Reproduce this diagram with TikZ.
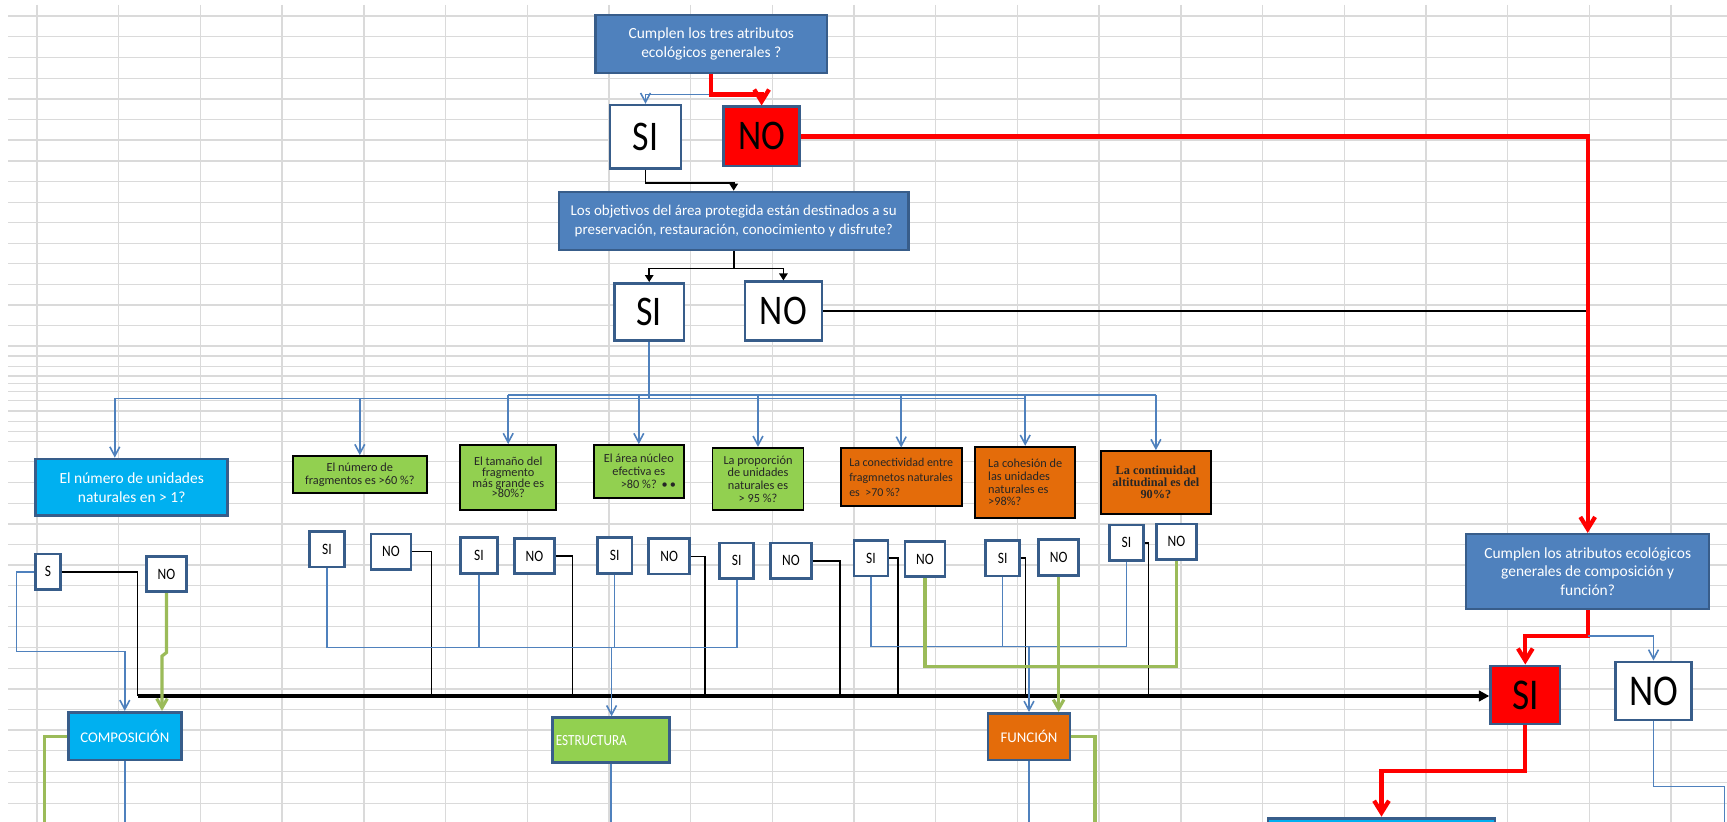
\documentclass[tikz,border=0pt]{standalone}
\usepackage{fontspec}
\setmainfont{Carlito}
\newfontfamily\narrowfont[FakeStretch=0.85]{Carlito}
\newfontfamily\boldserif{Liberation Serif}
\usetikzlibrary{arrows.meta}
\definecolor{xlblue}{RGB}{79,129,189}
\definecolor{xlborder}{RGB}{56,93,138}
\definecolor{xlcyan}{RGB}{0,176,240}
\definecolor{xlgreen}{RGB}{146,208,80}
\definecolor{xlorange}{RGB}{228,108,10}
\definecolor{xlleaf}{RGB}{155,187,89}
\definecolor{xlred}{RGB}{255,0,0}
\definecolor{xlgrid}{RGB}{218,218,218}

\tikzset{
  sheetline/.style={xlgrid, line width=0.4pt},
  qbox/.style={draw=xlborder, fill=xlblue, line width=0.6pt, text=white, align=center, inner sep=0pt},
  cybox/.style={draw=xlborder, fill=xlcyan, line width=0.8pt, text=white, align=center, inner sep=0pt},
  gbox/.style={draw=black, fill=xlgreen, line width=0.5pt, text=black!85, align=center, inner sep=0pt,
    font=\fontsize{3.5}{3.6}\selectfont},
  obox/.style={draw=black, fill=xlorange, line width=0.5pt, text=black!85, inner sep=0pt,
    font=\fontsize{3.5}{3.6}\selectfont},
  ansbig/.style={draw=xlborder, fill=white, line width=0.7pt, inner sep=0pt,
    font=\narrowfont\fontsize{12}{12}\selectfont},
  ans/.style={draw=xlborder, fill=white, line width=0.75pt, inner sep=0pt,
    font=\narrowfont\fontsize{4.5}{4.5}\selectfont},
  blueline/.style={xlblue, line width=0.45pt},
  bluearrow/.style={blueline, -{Straight Barb[length=2.6pt,width=2.8pt]}},
  blackline/.style={black, line width=0.45pt},
  blackarrow/.style={blackline, -{Triangle[length=2pt,width=2.4pt]}},
  busarrow/.style={black, line width=0.9pt, -{Triangle[length=3pt,width=3pt]}},
  redline/.style={xlred, line width=1.2pt},
  redarrow/.style={redline, -{Straight Barb[length=3.4pt,width=4.2pt]}},
  greenline/.style={xlleaf, line width=0.9pt},
  greenarrow/.style={greenline, -{Straight Barb[length=2.6pt,width=3pt]}}
}

\begin{document}
\begin{tikzpicture}[x=0.01cm, y=-0.01cm]
  \useasboundingbox (0,0) rectangle (1727,822);
  \clip (0,0) rectangle (1727,822);
  \fill[white] (0,0) rectangle (1727,822);

  % spreadsheet grid
  \foreach \k in {0,...,20} \draw[sheetline] (37+81.7*\k,5) -- (37+81.7*\k,822);
  \foreach \r in {16,36.7,57.3,78.3,99,119.3,140,161,181.7,202.3,222.7,243.3,263.3,284.3,305,
      325.7,346,356,366.7,376,383.3,391.7,400.7,411,421.7,431.7,441.7,461.7,482.5,503.3,524,
      544.3,565,585.7,606.5,626.7,647.7,668.3,689,709.3,730,750.7,771.5,782.7,803.3}
    \draw[sheetline] (8,\r) -- (1727,\r);

  % first questions
  \node[qbox, minimum width=2.315cm, minimum height=0.577cm, font=\fontsize{4.4}{5.2}\selectfont]
    (q0) at (711.3,43.9) {Cumplen los tres atributos\\ecológicos generales ?};
  \node[ansbig, minimum width=0.71cm, minimum height=0.633cm] (si0) at (645.5,136.7) {SI};
  \node[ansbig, fill=xlred, minimum width=0.758cm, minimum height=0.593cm] (no0) at (761.6,136.4) {NO};
  \node[qbox, minimum width=3.493cm, minimum height=0.583cm, font=\fontsize{4.25}{5.4}\selectfont]
    (q1) at (733.7,220.9) {Los objetivos del área protegida están destinados a su\\preservación, restauración, conocimiento y disfrute?};
  \node[ansbig, minimum width=0.697cm, minimum height=0.574cm] (si1) at (649.2,312) {SI};
  \node[ansbig, minimum width=0.767cm, minimum height=0.59cm] (no1) at (783.4,311.2) {NO};

  % attribute questions
  \node[cybox, minimum width=1.92cm, minimum height=0.567cm, font=\fontsize{4.4}{5.4}\selectfont]
    (qa) at (131.7,487.4) {El número de unidades\\naturales en > 1?};
  \node[gbox, minimum width=1.34cm, minimum height=0.373cm] (qb) at (359.8,474.7)
    {El número de\\fragmentos es >60 \%?};
  \node[gbox, minimum width=0.956cm, minimum height=0.65cm, font=\fontsize{3.5}{3.05}\selectfont]
    (qc) at (508.2,477.5) {El tamaño del\\fragmento\\más grande es\\>80\%?};
  \node[gbox, minimum width=0.90cm, minimum height=0.527cm] (qd) at (638.8,471.4)
    {El área  núcleo\\efectiva es\\>80 \%?\rlap{\ \,•\,•}};
  \node[gbox, minimum width=0.91cm, minimum height=0.623cm] (qe) at (758,478.9)
    {La proporción\\de unidades\\naturales es\\> 95 \%?};
  \node[obox, align=left, minimum width=1.21cm, minimum height=0.577cm, font=\fontsize{3.4}{4.2}\selectfont]
    (qf) at (901.2,477.2) {La conectividad entre\\fragmnetos naturales\\es \ >70 \%?};
  \node[obox, align=left, minimum width=0.997cm, minimum height=0.716cm] (qg) at (1025.2,482.5)
    {La cohesión de\\las unidades\\naturales es\\>98\%?};
  \node[obox, align=center, minimum width=1.103cm, minimum height=0.63cm,
    font=\boldserif\bfseries\fontsize{3.5}{3.5}\selectfont] (qh) at (1155.9,482.5)
    {La continuidad\\altitudinal es del\\90\%?};

  % small answers
  \foreach \n/\x/\y/\w/\t in {sa/48/571.8/0.246/S, na/166.5/574/0.402/NO,
      sb/327/549.2/0.352/SI, nb/391/551.7/0.40/NO, sc/479/555.5/0.366/SI, nc/534.4/556/0.402/NO,
      sd/614.7/555.5/0.347/SI, nd/669.2/556.3/0.41/NO, se/736.7/560.8/0.341/SI, ne/791/560.8/0.406/NO,
      sf/871/558.2/0.341/SI, nf/925/559/0.40/NO, sg/1002.6/558.2/0.341/SI, ng/1058.6/557.5/0.40/NO,
      sh/1126.4/542.9/0.341/SI, nh/1176.4/541.7/0.40/NO}
    \node[ans, minimum width=\w cm, minimum height=0.355cm] (\n) at (\x,\y) {\t};

  % attribute groups
  \node[cybox, minimum width=1.13cm, minimum height=0.477cm, font=\fontsize{4.2}{4.2}\selectfont]
    (comp) at (124.8,736.2) {COMPOSICIÓN};
  \node[cybox, fill=xlgreen, align=left, text width=1.1cm, minimum width=1.174cm, minimum height=0.45cm,
    font=\narrowfont\fontsize{4.4}{4.4}\selectfont] (estr) at (610.9,740.2) {ESTRUCTURA};
  \node[cybox, fill=xlorange, minimum width=0.82cm, minimum height=0.467cm, font=\fontsize{4.2}{4.2}\selectfont]
    (func) at (1029,736.7) {FUNCIÓN};

  % right branch
  \node[qbox, minimum width=2.433cm, minimum height=0.75cm, font=\fontsize{4.4}{5.3}\selectfont]
    (q2) at (1587.7,571.5) {Cumplen los  atributos ecológicos\\generales de  composición y\\función?};
  \node[ansbig, fill=xlred, minimum width=0.694cm, minimum height=0.583cm,
    font=\narrowfont\fontsize{12.5}{12.5}\selectfont] (si2) at (1525.3,694.9) {SI};
  \node[ansbig, minimum width=0.76cm, minimum height=0.583cm,
    font=\narrowfont\fontsize{12.5}{12.5}\selectfont] (no2) at (1653.5,690.9) {NO};
  \node[cybox, anchor=north, minimum width=2.27cm, minimum height=0.5cm] (cbox) at (1381.5,816.7) {};

  % helper points
  \path (q0.south) ++(0,20.6) coordinate (f0);
  \path (q1.south) ++(0,17.3) coordinate (f1);
  \path (q2.south) ++(0,26) coordinate (f2);
  \coordinate (busA) at (114.8,398.5);
  \coordinate (busB) at (1155.6,395);
  \foreach \n/\x in {ta/137.5, tb/431.7, tc/572.3, td/705.2, te/840, tf/897.8, tg/1025.5, th/1148.6}
    \coordinate (\n) at (\x,696);
  \coordinate (ka) at (16.5,651.7);
  \coordinate (ke) at (611.6,647.5);
  \coordinate (kf) at (1029,646.5);
  \coordinate (kg) at (1176.4,666.7);
  \path (na.south) ++(-4.5,63) coordinate (jn);
  \coordinate (xc) at (44.2,830);
  \coordinate (xf) at (1095,830);
  \coordinate (xn) at (1724.4,830);

  % top connectors
  \draw[bluearrow] (f0) -| (si0.north);
  \draw[redarrow] (q0.south) -- (f0) -| (no0.north);
  \draw[blackarrow] (si0.south) -- ++(0,13.4) -| (q1.north);
  \draw[blackarrow] (q1.south) -- (f1) -| (si1.north);
  \draw[blackarrow] (f1) -| (no1.north);
  \draw[blackline] (no1.east) -- (no1.east -| q2.north);
  \draw[redarrow] (no0.east) -| (q2.north);

  % blue fan to the attribute questions
  \draw[blueline] (si1.south) -- (si1.south |- busA);
  \draw[blueline] (busA) -- (qg.north |- busA);
  \draw[blueline] (qc.north |- busB) -- (busB);
  \draw[bluearrow] (busA) -- (busA |- qa.north);
  \draw[bluearrow] (qb.north |- busA) -- (qb.north);
  \foreach \q in {qc,qd,qe,qf,qg,qh} \draw[bluearrow] (\q.north |- busB) -- (\q.north);

  % answers that fail go to the main line
  \foreach \a/\t in {sa/ta, nb/tb, nc/tc, nd/td, ne/te, sf/tf, sg/tg, sh/th}
    \draw[blackline] (\a.east) -| (\t);
  \draw[busarrow] (ta) -- (ta -| si2.west);

  % composition
  \draw[bluearrow] (sa.west) -| (ka) -| (comp.north);
  \draw[greenarrow] (na.south) -- ++(0,59.4) -- (jn) -- (jn |- comp.north);
  \draw[greenline] (comp.west) -| (xc);
  \draw[blueline] (comp.south) -- ++(0,70);

  % structure
  \draw[blueline] (sb.south) |- (ke);
  \draw[blueline] (sc.south) -- (sc.south |- ke);
  \draw[blueline] (se.south) |- (ke);
  \draw[bluearrow] (sd.south) |- (ke) -- (ke |- estr.north);
  \draw[blueline] (estr.south) -- ++(0,70);

  % function
  \draw[bluearrow] (sf.south) |- (kf) -- (func.north);
  \draw[blueline] (sg.south) -- (sg.south |- kf);
  \draw[blueline] (sh.south) |- (kf);
  \draw[greenline] (nf.south) |- (kg) -- (nh.south);
  \draw[greenarrow] (ng.south) -- (ng.south |- func.north);
  \draw[greenline] (func.east) -| (xf);
  \draw[blueline] (func.south) -- ++(0,70);

  % right branch connectors
  \draw[redarrow] (q2.south) -- (f2) -| (si2.north);
  \draw[bluearrow] (f2) -| (no2.north);
  \draw[redarrow] (si2.south) -- ++(0,46) -| (cbox.north);
  \draw[blueline] (no2.south) -- ++(0,65) -| (xn);
\end{tikzpicture}
\end{document}
